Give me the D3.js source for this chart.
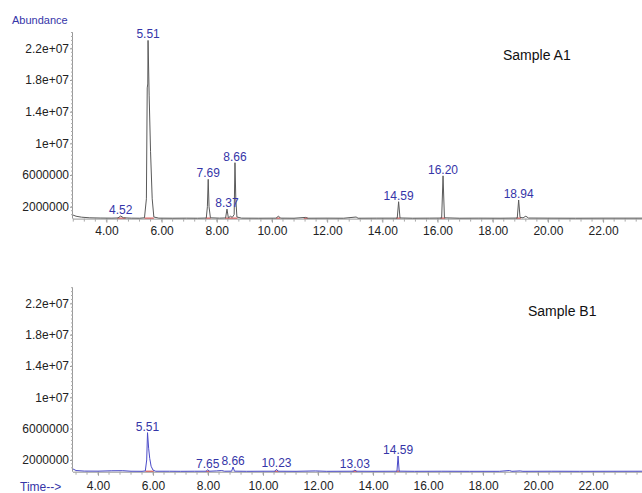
<!DOCTYPE html>
<html>
<head>
<meta charset="utf-8">
<script src="https://cdn.jsdelivr.net/npm/d3@7"></script>
<style>
  body { margin: 0; background: #fff; }
  text { font-family: "Liberation Sans", Arial, sans-serif; }
</style>
</head>
<body>
<svg id="chart"></svg>
<script>
// y ticks shared by both panels
var yTickValues = [2000000, 6000000, 10000000, 14000000, 18000000, 22000000]
var yTickLabels = ["2000000", "6000000", "1e+07", "1.4e+07", "1.8e+07", "2.2e+07"]
var xTickValues = [4, 6, 8, 10, 12, 14, 16, 18, 20, 22]
var xTickLabels = ["4.00", "6.00", "8.00", "10.00", "12.00", "14.00", "16.00", "18.00", "20.00", "22.00"]

// Sample A1 trace  [time (min), abundance]
var traceA = [
  [2.79, 950000], [2.9, 800000], [3.1, 680000], [3.4, 600000], [3.8, 570000], [4.2, 560000],
  [4.42, 580000], [4.52, 830000], [4.62, 600000], [4.9, 560000], [5.2, 550000], [5.38, 600000],
  [5.45, 3000000], [5.48, 17000000], [5.50, 17500000], [5.51, 23000000], [5.55, 16000000],
  [5.60, 9000000], [5.66, 3000000], [5.72, 700000], [5.9, 560000], [6.4, 550000], [6.9, 560000],
  [7.3, 550000], [7.62, 570000], [7.66, 2000000], [7.69, 5460000], [7.72, 2000000], [7.77, 600000],
  [8.1, 560000], [8.32, 580000], [8.37, 1700000], [8.42, 600000], [8.50, 800000], [8.56, 650000],
  [8.63, 1000000], [8.66, 7560000], [8.69, 3000000], [8.73, 700000], [8.9, 560000], [9.5, 550000],
  [10.15, 560000], [10.23, 800000], [10.32, 560000], [10.8, 550000], [11.22, 650000], [11.3, 550000],
  [12.0, 560000], [12.6, 550000], [13.05, 700000], [13.12, 550000], [13.8, 560000], [14.54, 560000],
  [14.59, 2630000], [14.64, 580000], [15.1, 550000], [15.7, 560000], [16.15, 570000], [16.20, 5900000],
  [16.25, 600000], [16.8, 550000], [17.5, 560000], [18.3, 550000], [18.89, 570000], [18.94, 2850000],
  [18.99, 650000], [19.1, 600000], [19.2, 800000], [19.3, 570000], [20.0, 560000], [21.0, 550000],
  [22.0, 560000], [23.41, 560000]
]
var peakTimesA = [4.52, 5.51, 7.69, 8.37, 8.66, 14.59, 16.20, 18.94]
var peakHeightsA = [830000, 23000000, 5460000, 1700000, 7560000, 2630000, 5900000, 2850000]
var peakLabelsA = ["4.52", "5.51", "7.69", "8.37", "8.66", "14.59", "16.20", "18.94"]
var integA = [[4.40, 4.70], [5.38, 5.72], [7.60, 7.78], [8.30, 8.75], [10.15, 10.30], [11.15, 11.30],
  [14.50, 14.65], [16.10, 16.28], [18.85, 19.02]]

// Sample B1 trace
var traceB = [
  [3.09, 850000], [3.2, 650000], [3.5, 580000], [4.0, 570000], [4.5, 620000], [4.9, 630000],
  [5.2, 560000], [5.6, 550000], [5.72, 600000], [5.77, 2000000], [5.80, 5490000], [5.84, 3500000],
  [5.88, 2200000], [5.93, 1200000], [6.0, 700000], [6.1, 560000], [6.6, 560000], [7.0, 550000],
  [7.5, 560000], [7.93, 560000], [7.99, 750000], [8.05, 560000], [8.3, 600000], [8.5, 650000],
  [8.6, 560000], [8.86, 570000], [8.91, 1100000], [8.96, 570000], [9.4, 550000], [10.0, 560000],
  [10.44, 560000], [10.49, 800000], [10.55, 560000], [11.2, 550000], [11.9, 600000], [12.3, 550000],
  [13.28, 560000], [13.34, 700000], [13.40, 560000], [14.0, 550000], [14.87, 560000], [14.91, 2500000],
  [14.95, 570000], [15.5, 550000], [16.5, 560000], [17.5, 550000], [18.6, 550000], [18.96, 650000],
  [19.05, 550000], [19.35, 600000], [19.45, 550000], [20.5, 560000], [21.5, 550000], [23.78, 560000]
]
var peakTimesB = [5.80, 7.99, 8.91, 10.49, 13.34, 14.91]
var peakHeightsB = [5490000, 750000, 1100000, 800000, 700000, 2500000]
var peakLabelsB = ["5.51", "7.65", "8.66", "10.23", "13.03", "14.59"]
var integB = [[5.72, 6.02], [7.92, 8.06], [10.42, 10.56], [13.26, 13.42], [14.85, 14.97]]

var dimensions = { width: 642, height: 493 }

var svg = d3.select("#chart")
  .attr("width", dimensions.width)
  .attr("height", dimensions.height)

function drawPanel(p) {
  var xScale = d3.scaleLinear().domain(p.xDomain).range([p.left, p.right])
  var yScale = d3.scaleLinear().domain([500000, 24000000]).range([p.bottom, p.top])
  var g = svg.append("g")

  // y axis
  var yAxisGen = d3.axisLeft(yScale).tickValues(yTickValues).tickSize(3)
    .tickFormat((d, i) => yTickLabels[i])
  var yAxis = g.append("g")
    .attr("transform", `translate(${p.left},0)`)
    .call(yAxisGen)
  yAxis.select(".domain").attr("stroke", "#999").attr("d", `M-0.5,${p.top}V${p.bottom}`)
  yAxis.selectAll(".tick line").attr("stroke", "#999")
  yAxis.selectAll(".tick text").attr("fill", "#222").style("font-size", "12px").attr("x", -4)

  var yMinor = d3.range(1000000, 24000001, 500000)
  g.append("g").selectAll("line").data(yMinor).enter().append("line")
    .attr("x1", p.left - 2).attr("x2", p.left)
    .attr("y1", d => yScale(d)).attr("y2", d => yScale(d))
    .attr("stroke", "#aaa")

  // x axis
  var xAxisGen = d3.axisBottom(xScale).tickValues(xTickValues).tickSize(4)
    .tickFormat((d, i) => xTickLabels[i])
  var xAxis = g.append("g")
    .attr("transform", `translate(0,${p.bottom})`)
    .call(xAxisGen)
  xAxis.select(".domain").attr("stroke", "#999").attr("d", `M${p.left},0.5H${p.right}`)
  xAxis.selectAll(".tick line").attr("stroke", "#999")
  xAxis.selectAll(".tick text").attr("fill", "#222").style("font-size", "12px").attr("y", p.xLabelGap)

  var xMinor = d3.range(Math.ceil(p.xDomain[0] / 0.4) * 0.4, p.xDomain[1], 0.4)
  g.append("g").selectAll("line").data(xMinor).enter().append("line")
    .attr("x1", d => xScale(d)).attr("x2", d => xScale(d))
    .attr("y1", p.bottom).attr("y2", p.bottom + 3)
    .attr("stroke", "#aaa")

  // integration marks
  g.append("g").selectAll("line").data(p.integ).enter().append("line")
    .attr("x1", d => xScale(d[0])).attr("x2", d => xScale(d[1]))
    .attr("y1", p.bottom - 0.5).attr("y2", p.bottom - 0.5)
    .attr("stroke", "#d04040").attr("stroke-width", 1)

  // trace
  var line = d3.line().x(d => xScale(d[0])).y(d => yScale(d[1]))
  g.append("path")
    .datum(p.trace)
    .attr("d", line)
    .attr("fill", "none")
    .attr("stroke", p.color)
    .attr("stroke-width", 1)

  // peak labels
  g.append("g").selectAll("text").data(p.peakTimes).enter().append("text")
    .attr("x", d => xScale(d))
    .attr("y", (d, i) => yScale(p.peakHeights[i]) - 2)
    .attr("text-anchor", "middle")
    .attr("fill", "#3535a8")
    .style("font-size", "12px")
    .text((d, i) => p.peakLabels[i])

  g.append("text")
    .attr("x", p.titleX).attr("y", p.titleY)
    .attr("fill", "#111")
    .style("font-size", "14px")
    .text(p.title)
}

drawPanel({
  xDomain: [2.79, 23.41], left: 73, right: 642, top: 32.5, bottom: 218.6, xLabelGap: 8,
  trace: traceA, color: "#5a5a5a", integ: integA,
  peakTimes: peakTimesA, peakHeights: peakHeightsA, peakLabels: peakLabelsA,
  title: "Sample A1", titleX: 503, titleY: 60
})

drawPanel({
  xDomain: [3.09, 23.78], left: 73, right: 642, top: 287.7, bottom: 471.7, xLabelGap: 10,
  trace: traceB, color: "#4a4ac8", integ: integB,
  peakTimes: peakTimesB, peakHeights: peakHeightsB, peakLabels: peakLabelsB,
  title: "Sample B1", titleX: 528, titleY: 316
})

svg.append("text").attr("x", 12).attr("y", 24)
  .attr("fill", "#3535a8").style("font-size", "11px").text("Abundance")
svg.append("text").attr("x", 20).attr("y", 491)
  .attr("fill", "#3535a8").style("font-size", "12px").text("Time-->")
</script>
</body>
</html>
